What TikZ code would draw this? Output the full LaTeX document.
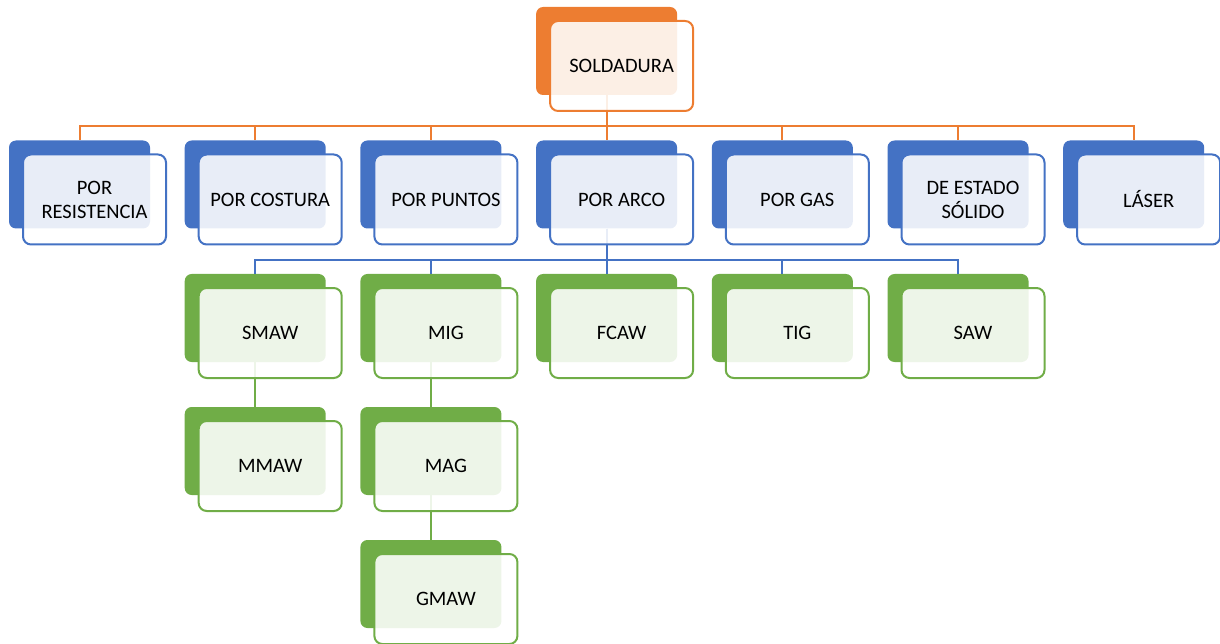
\documentclass[tikz,border=0pt]{standalone}
\usepackage{fontspec}
\setmainfont{Carlito}
\usetikzlibrary{calc,positioning}
\definecolor{orng}{HTML}{ED7D31}
\definecolor{blu}{HTML}{4472C4}
\definecolor{grn}{HTML}{70AD47}
\begin{document}
\begin{tikzpicture}[x=1pt, y=-1pt]
% Define block styles
\tikzstyle{back} = [rectangle, rounded corners=7pt, minimum width=141pt,
    minimum height=88pt, inner sep=0pt]
\tikzstyle{front} = [rectangle, draw, line width=2pt, rounded corners=8pt,
    fill=white, fill opacity=0.88, text opacity=1, minimum width=143pt,
    minimum height=90pt, inner sep=0pt, align=center,
    font=\fontsize{20.5pt}{24pt}\selectfont]
\tikzstyle{link} = [draw, line width=2pt]
\useasboundingbox (0,0) rectangle (1220,644);

    % Place back blocks
    \node [back, fill=orng] (sold) at (606.6,51) {};
    \node [back, fill=blu] (res) at (79.5,184.5) {};
    \node [back, fill=blu] (cost) at (255.2,184.5) {};
    \node [back, fill=blu] (punt) at (430.9,184.5) {};
    \node [back, fill=blu] (arco) at (606.6,184.5) {};
    \node [back, fill=blu] (gas) at (782.3,184.5) {};
    \node [back, fill=blu] (sol) at (958,184.5) {};
    \node [back, fill=blu] (las) at (1133.7,184.5) {};
    \node [back, fill=grn] (smaw) at (255.2,318) {};
    \node [back, fill=grn] (mig) at (430.9,318) {};
    \node [back, fill=grn] (fcaw) at (606.6,318) {};
    \node [back, fill=grn] (tig) at (782.3,318) {};
    \node [back, fill=grn] (saw) at (958,318) {};
    \node [back, fill=grn] (mmaw) at (255.2,451) {};
    \node [back, fill=grn] (mag) at (430.9,451) {};
    \node [back, fill=grn] (gmaw) at (430.9,584) {};

    % Draw edges
    \path [link, draw=orng] (sold.south) -- ++(0,31) -| (res.north);
    \path [link, draw=orng] (sold.south) -- ++(0,31) -| (cost.north);
    \path [link, draw=orng] (sold.south) -- ++(0,31) -| (punt.north);
    \path [link, draw=orng] (sold.south) -- (arco.north);
    \path [link, draw=orng] (sold.south) -- ++(0,31) -| (gas.north);
    \path [link, draw=orng] (sold.south) -- ++(0,31) -| (sol.north);
    \path [link, draw=orng] (sold.south) -- ++(0,31) -| (las.north);
    \path [link, draw=blu] (arco.south) -- ++(0,31) -| (smaw.north);
    \path [link, draw=blu] (arco.south) -- ++(0,31) -| (mig.north);
    \path [link, draw=blu] (arco.south) -- (fcaw.north);
    \path [link, draw=blu] (arco.south) -- ++(0,31) -| (tig.north);
    \path [link, draw=blu] (arco.south) -- ++(0,31) -| (saw.north);
    \path [link, draw=grn] (smaw.south) -- (mmaw.north);
    \path [link, draw=grn] (mig.south) -- (mag.north);
    \path [link, draw=grn] (mag.south) -- (gmaw.north);

    % Place front blocks
    \node [front, draw=orng] (soldF) at ($(sold)+(15,15)$) {SOLDADURA};
    \node [front, draw=blu] (resF) at ($(res)+(15,15)$) {POR\\RESISTENCIA};
    \node [front, draw=blu] (costF) at ($(cost)+(15,15)$) {POR COSTURA};
    \node [front, draw=blu] (puntF) at ($(punt)+(15,15)$) {POR PUNTOS};
    \node [front, draw=blu] (arcoF) at ($(arco)+(15,15)$) {POR ARCO};
    \node [front, draw=blu] (gasF) at ($(gas)+(15,15)$) {POR GAS};
    \node [front, draw=blu] (solF) at ($(sol)+(15,15)$) {DE ESTADO\\SÓLIDO};
    \node [front, draw=blu] (lasF) at ($(las)+(15,15)$) {LÁSER};
    \node [front, draw=grn] (smawF) at ($(smaw)+(15,15)$) {SMAW};
    \node [front, draw=grn] (migF) at ($(mig)+(15,15)$) {MIG};
    \node [front, draw=grn] (fcawF) at ($(fcaw)+(15,15)$) {FCAW};
    \node [front, draw=grn] (tigF) at ($(tig)+(15,15)$) {TIG};
    \node [front, draw=grn] (sawF) at ($(saw)+(15,15)$) {SAW};
    \node [front, draw=grn] (mmawF) at ($(mmaw)+(15,15)$) {MMAW};
    \node [front, draw=grn] (magF) at ($(mag)+(15,15)$) {MAG};
    \node [front, draw=grn] (gmawF) at ($(gmaw)+(15,15)$) {GMAW};
\end{tikzpicture}
\end{document}
